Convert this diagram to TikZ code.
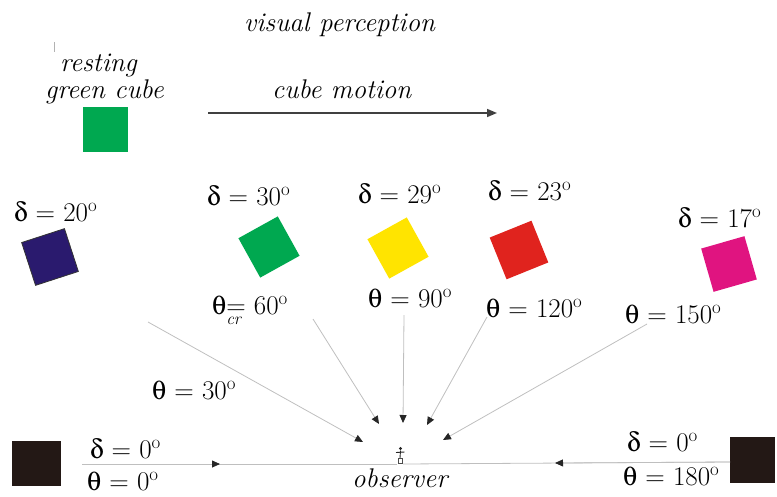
\documentclass[tikz,border=0pt]{standalone}
\usepackage[Symbol]{upgreek}
\usetikzlibrary{arrows.meta}
\definecolor{cgreen}{RGB}{0,168,80}
\definecolor{cnavy}{RGB}{42,26,110}
\definecolor{cyellow}{RGB}{255,228,0}
\definecolor{cred}{RGB}{224,35,30}
\definecolor{cmag}{RGB}{224,20,128}
\definecolor{cblack}{RGB}{35,24,21}
\newcommand{\dl}{$\updelta$}
\newcommand{\tl}{$\uptheta$}
\newcommand{\dg}{\textsuperscript{o}}
\begin{document}
\begin{tikzpicture}[x=1pt,y=-1pt,
  lbl/.style={anchor=base west, inner sep=0pt, font=\fontsize{27}{29}\selectfont},
  itl/.style={anchor=base west, inner sep=0pt, font=\fontsize{27}{29}\selectfont\itshape},
  cube/.style={minimum size=45pt, inner sep=0pt, draw=none},
  ray/.style={draw=gray!50, line width=0.8pt, -{Triangle[length=8pt,width=7pt,color=black!85]}},
  hline/.style={draw=gray!50, line width=0.8pt},
  motion/.style={draw=black!75, line width=1.6pt, -{Triangle[length=10pt,width=8pt]}}]
\useasboundingbox (0,0) rectangle (777,496);
% titles
\node[itl] (title) at (244,31) {visual perception};
\node[itl] (rest1) at (60,71) {resting};
\node[itl] (rest2) at (45,98) {green cube};
\node[itl] (motion) at (272,98) {cube motion};
\draw[gray!60, line width=0.8pt] (54,42) -- (54,52);
\node[cube, fill=cgreen] (rgc) at (105.5,129.5) {};
\coordinate (mvA) at (208,113);
\coordinate (mvB) at (497,113);
\draw[motion] (mvA) -- (mvB);
% rotated cubes
\node[cube, fill=cnavy, draw=black!80, line width=0.8pt, rotate=18] (c20) at (50,257) {};
\node[cube, fill=cgreen, rotate=29] (c30) at (269,247) {};
\node[cube, fill=cyellow, rotate=29] (c29) at (398,248) {};
\node[cube, fill=cred, rotate=22] (c23) at (519,250) {};
\node[cube, fill=cmag, rotate=16] (c17) at (729,264) {};
\node[cube, fill=cblack, minimum width=49pt, minimum height=45pt] (b0) at (36.5,463.5) {};
\node[cube, fill=cblack, minimum width=45pt, minimum height=46pt] (b180) at (752.5,460) {};
% delta labels
\node[lbl] (d20) at (14,221) {\dl{} = 20\dg};
\node[lbl] (d30) at (207,205) {\dl{} = 30\dg};
\node[lbl] (d29) at (358,203) {\dl{} = 29\dg};
\node[lbl] (d23) at (488,200) {\dl{} = 23\dg};
\node[lbl] (d17) at (678,227) {\dl{} = 17\dg};
\node[lbl] (d0l) at (90,458) {\dl{} = 0\dg};
\node[lbl] (d0r) at (627,451) {\dl{} = 0\dg};
% theta labels
\node[lbl] (t60) at (212,314) {\tl\rlap{\raisebox{-10pt}{\fontsize{17}{18}\selectfont\itshape cr}}= 60\dg};
\node[lbl] (t90) at (368,307) {\tl{} = 90\dg};
\node[lbl] (t120) at (486,317) {\tl{} = 120\dg};
\node[lbl] (t150) at (625,323) {\tl{} = 150\dg};
\node[lbl] (t30) at (152,399) {\tl{} = 30\dg};
\node[lbl] (t0) at (87,490) {\tl{} = 0\dg};
\node[lbl] (t180) at (623,485) {\tl{} = 180\dg};
\node[itl] (obsl) at (352,487) {observer};
% rays
\coordinate (s30) at (148,322);  \coordinate (e30) at (363,442);
\coordinate (s60) at (313,319);  \coordinate (e60) at (379,424);
\coordinate (s90) at (404,315);  \coordinate (e90) at (403,423);
\coordinate (s120) at (487,317); \coordinate (e120) at (427,425);
\coordinate (s150) at (647,324); \coordinate (e150) at (443,440);
\draw[ray] (s30) -- (e30);
\draw[ray] (s60) -- (e60);
\draw[ray] (s90) -- (e90);
\draw[ray] (s120) -- (e120);
\draw[ray] (s150) -- (e150);
% horizontal lines
\coordinate (hl0) at (82,464);  \coordinate (hlm) at (220,464); \coordinate (hl1) at (397,464);
\coordinate (hr0) at (730,462); \coordinate (hrm) at (555,463); \coordinate (hr1) at (403,464);
\draw[hline] (hl0) -- (hl1);
\draw[ray] (hl0) -- (hlm);
\draw[hline] (hr0) -- (hr1);
\draw[ray] (hr0) -- (hrm);
% observer figure
\coordinate (obs) at (400,455);
\fill[black!85] (400.5,448.5) circle (1.6pt);
\draw[black!85, line width=0.9pt] (400.5,450.5) -- (400,458);
\draw[black!85, line width=0.9pt] (396,452.5) -- (404.5,452);
\draw[black!70, line width=0.6pt] (398,458) rectangle (402.5,463);
\end{tikzpicture}
\end{document}
